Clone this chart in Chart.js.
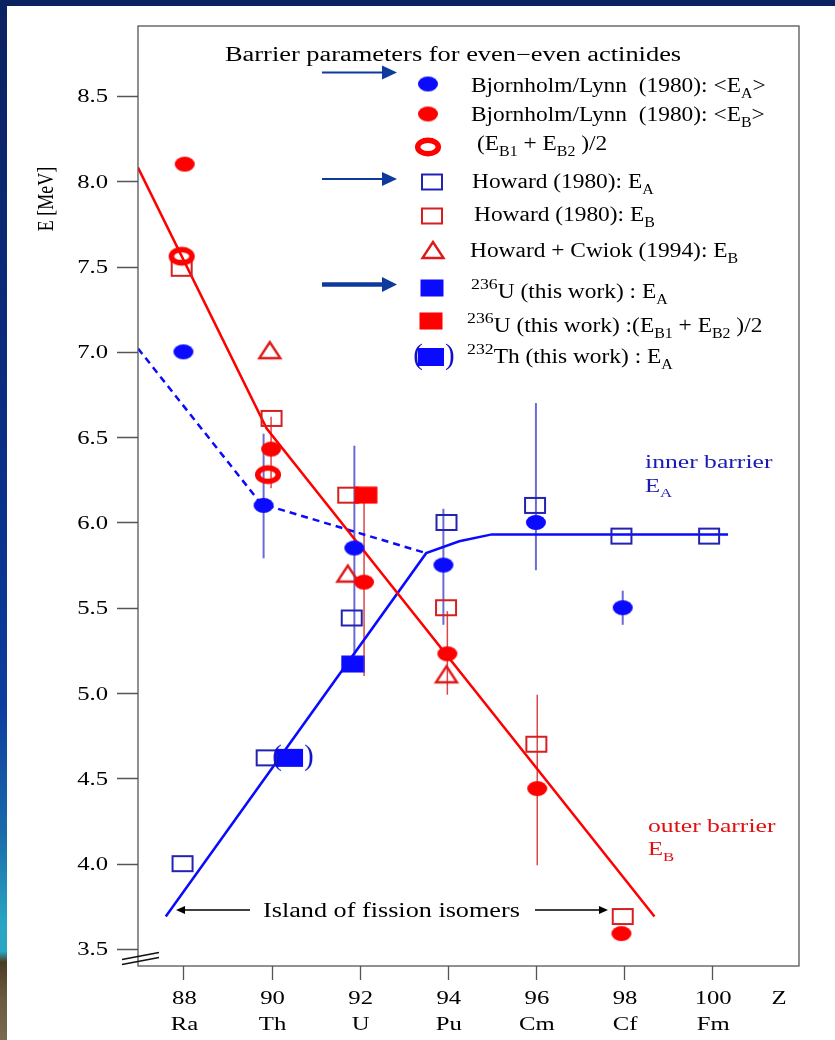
<!DOCTYPE html>
<html>
<head>
<meta charset="utf-8">
<script src="https://cdn.jsdelivr.net/npm/chart.js"></script>
<style>
  html, body { margin: 0; padding: 0; background: #0b2260; }
  #wrap { width: 835px; height: 1040px; }
</style>
</head>
<body>
<div id="wrap"><canvas id="chart"></canvas></div>
<script>
// axis ticks
const zTicks = [88, 90, 92, 94, 96, 98, 100];
const elements = ["Ra", "Th", "U", "Pu", "Cm", "Cf", "Fm"];
const eTicks = [3.5, 4.0, 4.5, 5.0, 5.5, 6.0, 6.5, 7.0, 7.5, 8.0, 8.5];

// Bjornholm/Lynn (1980) <E_A>, error bar ends (null = no bar)
const blZA = [88.0, 89.82, 91.88, 93.9, 96.0, 97.97];
const blEA = [7.0, 6.10, 5.85, 5.75, 6.0, 5.50];
const blEAlo = [null, 5.79, 5.22, 5.40, 5.72, 5.40];
const blEAhi = [null, 6.52, 6.45, 6.08, 6.70, 5.60];
// Bjornholm/Lynn (1980) <E_B>
const blZB = [88.03, 89.99, 92.1, 93.99, 96.03, 97.94];
const blEB = [8.10, 6.43, 5.65, 5.23, 4.44, 3.59];
const blEBlo = [null, 6.20, 5.10, 4.99, 3.99, null];
const blEBhi = [null, 6.62, 6.16, 5.48, 4.99, null];
// (E_B1 + E_B2)/2
const ringZ = [87.96, 89.92];
const ringE = [7.56, 6.28];
// Howard (1980) E_A
const hoZA = [87.98, 89.89, 91.82, 93.97, 95.98, 97.94, 99.93];
const hoEA = [4.00, 4.62, 5.44, 6.00, 6.10, 5.92, 5.92];
// Howard (1980) E_B
const hoZB = [87.96, 90.0, 91.74, 93.96, 96.01, 97.97];
const hoEB = [7.49, 6.61, 6.16, 5.50, 4.70, 3.69];
// Howard + Cwiok (1994) E_B
const hcZ = [89.96, 91.73, 93.97];
const hcE = [7.01, 5.70, 5.11];
// this work
const u236ZA = [91.84], u236EA = [5.17];
const u236ZB = [92.14], u236EB = [6.16];
const th232Z = [90.42], th232E = [4.62];
// guide curves
const outerZ = [86.97, 89.89, 98.69];
const outerE = [8.08, 6.55, 3.69];
const innerZ = [87.6, 93.51, 94.26, 95.0, 100.36];
const innerE = [3.69, 5.82, 5.89, 5.93, 5.93];
const dashZ = [86.97, 89.76, 93.51];
const dashE = [7.02, 6.11, 5.82];

const BLUE = "#0a0aff";
const RED = "#ff0000";
const SERIF = "'Liberation Serif', 'Times New Roman', serif";

const pts = (xs, ys) => xs.map((v, i) => ({ x: v, y: ys[i] }));

// marker images (the original picture is stretched sideways, so shapes are wider than tall)
function marker(w, h, draw) {
  const c = document.createElement("canvas");
  c.width = w;
  c.height = h;
  draw(c.getContext("2d"), w / 2, h / 2);
  return c;
}
const mBlueDot = marker(24, 19, (g, cx, cy) => {
  g.fillStyle = BLUE; g.beginPath(); g.ellipse(cx, cy, 10, 7.5, 0, 0, 2 * Math.PI); g.fill();
});
const mRedDot = marker(24, 19, (g, cx, cy) => {
  g.fillStyle = RED; g.beginPath(); g.ellipse(cx, cy, 10, 7.5, 0, 0, 2 * Math.PI); g.fill();
});
const mRing = marker(30, 24, (g, cx, cy) => {
  g.strokeStyle = RED; g.lineWidth = 5.5; g.beginPath(); g.ellipse(cx, cy, 10.3, 6.8, 0, 0, 2 * Math.PI); g.stroke();
});
const openSq = (col) => marker(26, 21, (g, cx, cy) => {
  g.strokeStyle = col; g.lineWidth = 2; g.strokeRect(cx - 10, cy - 7.5, 20, 15);
});
const mBlueSq = openSq("#2222b4");
const mRedSq = openSq("#d42020");
const mTri = marker(28, 24, (g, cx, cy) => {
  g.strokeStyle = "#e01818"; g.lineWidth = 2.4;
  g.beginPath(); g.moveTo(cx, cy - 8); g.lineTo(cx + 10.5, cy + 8); g.lineTo(cx - 10.5, cy + 8); g.closePath(); g.stroke();
});
const fillSq = (col) => marker(24, 18, (g, cx, cy) => {
  g.fillStyle = col; g.fillRect(cx - 11.5, cy - 8.5, 23, 17);
});
const mBlueFill = fillSq(BLUE);
const mRedFill = fillSq(RED);
const mParen = marker(54, 34, (g, cx, cy) => {
  g.fillStyle = BLUE; g.fillRect(cx - 13, cy - 9, 26, 18);
  g.fillStyle = "#1010c8"; g.font = "29px " + SERIF; g.textBaseline = "middle";
  g.textAlign = "right"; g.fillText("(", cx - 8, cy - 1);
  g.textAlign = "left"; g.fillText(")", cx + 14, cy - 1);
});

// text drawn with a horizontal stretch
function stext(ctx, s, x, y, size, sx, color, align) {
  ctx.save();
  ctx.font = size + "px " + SERIF;
  ctx.fillStyle = color;
  ctx.textBaseline = "alphabetic";
  ctx.textAlign = "left";
  const w = ctx.measureText(s).width * sx;
  const x0 = align === "right" ? x - w : align === "center" ? x - w / 2 : x;
  ctx.translate(x0, y);
  ctx.scale(sx, 1);
  ctx.fillText(s, 0, 0);
  ctx.restore();
  return w;
}
function rich(ctx, parts, x, y, size, sx, color) {
  let cx = x;
  for (const [s, kind] of parts) {
    let sz = size, dy = 0;
    if (kind === "sub") { sz = size * 0.68; dy = size * 0.3; }
    if (kind === "sup") { sz = size * 0.76; dy = -size * 0.43; }
    cx += stext(ctx, s, cx, y + dy, sz, sx, color);
  }
}
function arrow(ctx, x1, x2, y, lw, head, hh, color) {
  ctx.save();
  ctx.strokeStyle = color; ctx.fillStyle = color; ctx.lineWidth = lw;
  const d = Math.sign(x2 - x1);
  ctx.beginPath(); ctx.moveTo(x1, y); ctx.lineTo(x2 - d * head * 0.8, y); ctx.stroke();
  ctx.beginPath(); ctx.moveTo(x2, y); ctx.lineTo(x2 - d * head, y - hh); ctx.lineTo(x2 - d * head, y + hh); ctx.closePath(); ctx.fill();
  ctx.restore();
}

const legendRows = [
  { m: mBlueDot, mx: 428, my: 84, x: 471, y: 92, parts: [["Bjornholm/Lynn  (1980): <E"], ["A", "sub"], [">"]] },
  { m: mRedDot, mx: 428, my: 114, x: 471, y: 121, parts: [["Bjornholm/Lynn  (1980): <E"], ["B", "sub"], [">"]] },
  { m: mRing, mx: 428, my: 147, x: 477, y: 150, parts: [["(E"], ["B1", "sub"], [" + E"], ["B2", "sub"], [" )/2"]] },
  { m: mBlueSq, mx: 432, my: 182, x: 472, y: 188, parts: [["Howard (1980): E"], ["A", "sub"]] },
  { m: mRedSq, mx: 432, my: 216, x: 474, y: 221, parts: [["Howard (1980): E"], ["B", "sub"]] },
  { m: mTri, mx: 433, my: 250, x: 470, y: 257, parts: [["Howard + Cwiok (1994): E"], ["B", "sub"]] },
  { m: mBlueFill, mx: 432, my: 288, x: 471, y: 298, parts: [["236", "sup"], ["U (this work) : E"], ["A", "sub"]] },
  { m: mRedFill, mx: 431, my: 321, x: 467, y: 332, parts: [["236", "sup"], ["U (this work) :(E"], ["B1", "sub"], [" + E"], ["B2", "sub"], [" )/2"]] },
  { m: mParen, mx: 431, my: 357, x: 467, y: 363, parts: [["232", "sup"], ["Th (this work) : E"], ["A", "sub"]] }
];

const frame = {
  id: "frame",
  beforeDraw(chart) {
    const { ctx, width, height } = chart;
    ctx.save();
    ctx.fillStyle = "#ffffff";
    ctx.fillRect(0, 0, width, height);
    ctx.fillStyle = "#0b2260";
    ctx.fillRect(0, 0, width, 6);
    const g = ctx.createLinearGradient(0, 0, 0, height);
    g.addColorStop(0, "#0b2260");
    g.addColorStop(0.45, "#0a2f86");
    g.addColorStop(0.68, "#0c3d9e");
    g.addColorStop(0.8, "#1a6aaa");
    g.addColorStop(0.89, "#2aa6c2");
    g.addColorStop(0.915, "#2aa6c2");
    g.addColorStop(0.925, "#4a3c22");
    g.addColorStop(0.96, "#6a5a42");
    g.addColorStop(1, "#7a6a52");
    ctx.fillStyle = g;
    ctx.fillRect(0, 0, 7, height);
    ctx.restore();
  }
};

const errorBars = {
  id: "errorBars",
  beforeDatasetsDraw(chart) {
    const { ctx, scales: { x, y } } = chart;
    const bars = (zs, lo, hi, color, lw) => {
      ctx.strokeStyle = color; ctx.lineWidth = lw;
      zs.forEach((z, i) => {
        if (lo[i] == null) return;
        const px = x.getPixelForValue(z);
        ctx.beginPath();
        ctx.moveTo(px, y.getPixelForValue(hi[i]));
        ctx.lineTo(px, y.getPixelForValue(lo[i]));
        ctx.stroke();
      });
    };
    ctx.save();
    bars(blZB, blEBlo, blEBhi, "rgba(210,40,40,0.85)", 1.5);
    bars(blZA, blEAlo, blEAhi, "rgba(70,70,200,0.8)", 2);
    ctx.restore();
  }
};

const decor = {
  id: "decor",
  afterDraw(chart) {
    const { ctx, chartArea: a, scales: { x, y } } = chart;
    ctx.save();
    // axis box and ticks
    ctx.strokeStyle = "#555555";
    ctx.lineWidth = 1.3;
    ctx.strokeRect(a.left, a.top, a.right - a.left, a.bottom - a.top);
    ctx.beginPath();
    eTicks.forEach(v => {
      const py = Math.round(y.getPixelForValue(v)) + 0.5;
      ctx.moveTo(a.left - 21, py); ctx.lineTo(a.left, py);
    });
    zTicks.forEach(v => {
      const px = Math.round(x.getPixelForValue(v)) + 0.5;
      ctx.moveTo(px, a.bottom); ctx.lineTo(px, a.bottom + 14);
    });
    ctx.stroke();
    // axis break marks
    ctx.strokeStyle = "#111111";
    ctx.lineWidth = 1.5;
    ctx.beginPath();
    ctx.moveTo(a.left - 16, a.bottom - 6.5); ctx.lineTo(a.left + 21, a.bottom - 13.5);
    ctx.moveTo(a.left - 16, a.bottom - 1.5); ctx.lineTo(a.left + 21, a.bottom - 8.5);
    ctx.stroke();

    eTicks.forEach(v => {
      stext(ctx, v.toFixed(1), a.left - 30, y.getPixelForValue(v) + 6.5, 19, 1.3, "#000", "right");
    });
    zTicks.forEach((v, i) => {
      const px = x.getPixelForValue(v);
      stext(ctx, String(v), px + 1, a.bottom + 38, 19, 1.3, "#000", "center");
      stext(ctx, elements[i], px + 1, a.bottom + 64, 19, 1.3, "#000", "center");
    });
    stext(ctx, "Z", a.right - 20, a.bottom + 38, 19, 1.3, "#000", "center");

    // y axis title
    ctx.save();
    ctx.translate(47, 199);
    ctx.rotate(-Math.PI / 2);
    ctx.scale(1, 1.3);
    ctx.font = "18px " + SERIF;
    ctx.fillStyle = "#000";
    ctx.textAlign = "center";
    ctx.textBaseline = "middle";
    ctx.fillText("E [MeV]", 0, 0);
    ctx.restore();

    // title and legend
    stext(ctx, "Barrier parameters for even\u2212even actinides", 225, 61, 20, 1.32, "#000");
    arrow(ctx, 322, 397, 72.5, 2.2, 15, 7, "#0d3a9c");
    arrow(ctx, 322, 397, 179, 2.2, 15, 7, "#0d3a9c");
    arrow(ctx, 322, 397, 284.5, 4.5, 15, 7.5, "#0d3a9c");
    legendRows.forEach(r => {
      ctx.drawImage(r.m, r.mx - r.m.width / 2, r.my - r.m.height / 2);
      rich(ctx, r.parts, r.x, r.y, 20, 1.17, "#000");
    });

    // curve labels
    stext(ctx, "inner barrier", 645, 468, 19, 1.35, "#1a1ab4");
    rich(ctx, [["E"], ["A", "sub"]], 645, 491.5, 19, 1.3, "#1a1ab4");
    stext(ctx, "outer barrier", 648, 831.5, 19, 1.35, "#e01010");
    rich(ctx, [["E"], ["B", "sub"]], 648, 855, 19, 1.3, "#e01010");

    // island of fission isomers
    stext(ctx, "Island of fission isomers", 263, 916.5, 20, 1.31, "#000");
    arrow(ctx, 250, 176, 910, 1.5, 9, 4, "#000");
    arrow(ctx, 535, 608, 910, 1.5, 9, 4, "#000");
    ctx.restore();
  }
};

const markerSet = (data, img) => ({
  data: data, pointStyle: img, pointRadius: 6, showLine: false
});
const lineSet = (data, color, dash) => ({
  data: data, showLine: true, pointRadius: 0, borderColor: color,
  borderWidth: 2.5, borderDash: dash || [], fill: false, tension: 0
});

new Chart(document.getElementById("chart"), {
  type: "scatter",
  data: {
    datasets: [
      markerSet(pts(th232Z, th232E), mParen),
      markerSet(pts(u236ZB, u236EB), mRedFill),
      markerSet(pts(u236ZA, u236EA), mBlueFill),
      markerSet(pts(blZA, blEA), mBlueDot),
      markerSet(pts(blZB, blEB), mRedDot),
      markerSet(pts(ringZ, ringE), mRing),
      markerSet(pts(hoZA, hoEA), mBlueSq),
      markerSet(pts(hoZB, hoEB), mRedSq),
      markerSet(pts(hcZ, hcE), mTri),
      lineSet(pts(outerZ, outerE), RED),
      lineSet(pts(innerZ, innerE), BLUE),
      lineSet(pts(dashZ, dashE), BLUE, [7, 5])
    ]
  },
  options: {
    responsive: true,
    maintainAspectRatio: false,
    animation: false,
    events: [],
    layout: { padding: { left: 138, top: 26, right: 36, bottom: 74 } },
    scales: {
      x: { type: "linear", min: 86.97, max: 101.97, display: false },
      y: { type: "linear", min: 3.40, max: 8.91, display: false }
    },
    plugins: {
      legend: { display: false },
      tooltip: { enabled: false }
    }
  },
  plugins: [frame, errorBars, decor]
});
</script>
</body>
</html>
